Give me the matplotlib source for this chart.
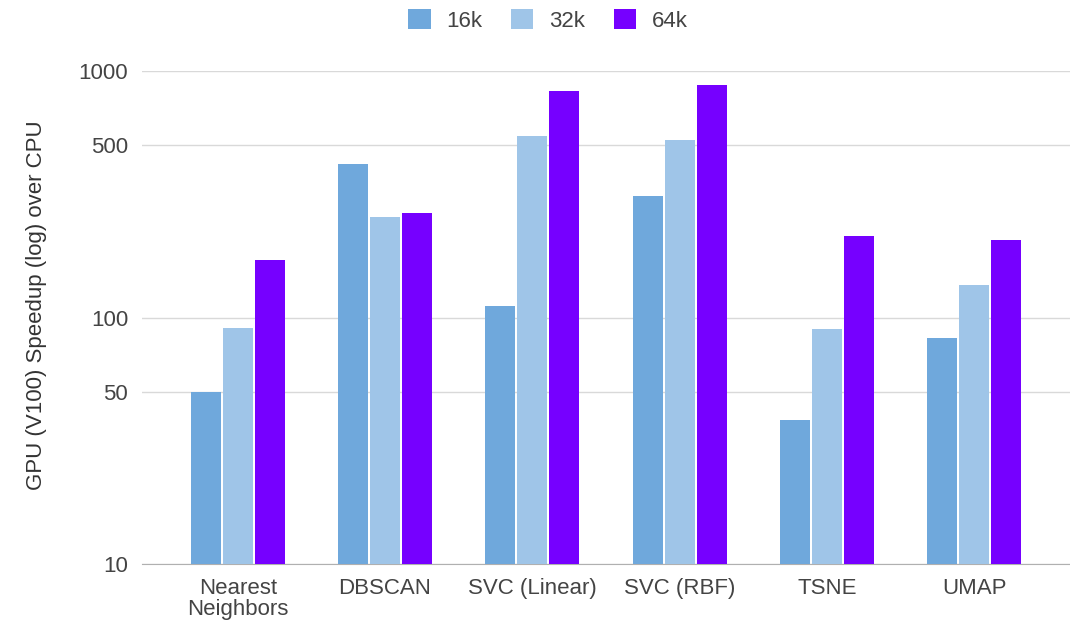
import matplotlib.pyplot as plt
import numpy as np

plt.rcParams['font.family'] = ['Liberation Sans', 'DejaVu Sans']

# GPU speedup over CPU per algorithm and dataset size
algorithms = ['Nearest\nNeighbors', 'DBSCAN', 'SVC (Linear)', 'SVC (RBF)', 'TSNE', 'UMAP']
speedup_16k = [50, 420, 111, 312, 38.5, 82.7]
speedup_32k = [91, 257, 544, 526, 90, 136]
speedup_64k = [172, 267, 833, 881, 215, 207]

series = [('16k', speedup_16k, '#6fa8dc'),
          ('32k', speedup_32k, '#9fc5e8'),
          ('64k', speedup_64k, '#7600ff')]

fig = plt.figure(figsize=(10.7, 6.23), dpi=100)
ax = fig.add_axes([0.1327, 0.0947, 0.8673, 0.791])

x = np.arange(len(algorithms))
width = 0.204
step = 0.218
for i, (name, vals, color) in enumerate(series):
    ax.bar(x + (i - 1) * step, vals, width, color=color, label=name, zorder=3)

ax.set_yscale('log')
ax.set_ylim(10, 1000)
ax.set_xlim(-0.65, len(algorithms) - 0.35)
ax.set_yticks([10, 50, 100, 500, 1000])
ax.set_yticklabels(['10', '50', '100', '500', '1000'])
ax.yaxis.set_minor_locator(plt.NullLocator())
ax.set_xticks(x)
ax.set_xticklabels(algorithms, linespacing=1.0)

ax.grid(axis='y', color='#d9d9d9', linewidth=1, zorder=0)
for s in ['top', 'right', 'left']:
    ax.spines[s].set_visible(False)
ax.spines['bottom'].set_color('#b0b0b0')
ax.tick_params(axis='both', length=0, labelsize=16, colors='#444444')
ax.tick_params(axis='y', pad=10)
ax.tick_params(axis='x', pad=10)

ax.set_ylabel('GPU (V100) Speedup (log) over CPU', fontsize=16, color='#333333')
ax.yaxis.set_label_coords(-0.102, 0.525)

fig.legend(loc='upper center', bbox_to_anchor=(0.512, 1.017), ncol=3, frameon=False,
           fontsize=16, handlelength=1.0, handleheight=1.0, columnspacing=1.3,
           handletextpad=0.7, labelcolor='#444444')

fig.savefig('out.png', dpi=100)
